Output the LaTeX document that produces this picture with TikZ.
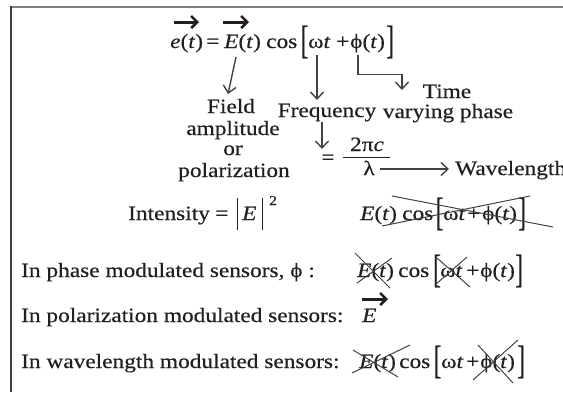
\documentclass[tikz,border=0pt]{standalone}
\usepackage{fontspec}
\setmainfont[FakeStretch=1.15,FakeBold=0.4]{Liberation Serif}
\usetikzlibrary{arrows.meta}
\definecolor{ink}{HTML}{231F20}
\newcommand\brL{\raisebox{-5pt}{\scalebox{1}[1.95]{[}}}
\newcommand\brR{\raisebox{-5pt}{\scalebox{1}[1.95]{]}}}
\newcommand\vbar{\rule[-10pt]{0.9pt}{32pt}}
\begin{document}
\begin{tikzpicture}[x=1pt,y=-1pt,
  font=\fontsize{20.3}{24}\selectfont, text=ink,
  t/.style={inner sep=0pt, anchor=base west},
  tc/.style={inner sep=0pt, anchor=base},
  arr/.style={draw=ink!85, line width=1.4pt, -{Straight Barb[length=7pt,width=13pt,line width=1.4pt]}},
  vecarrow/.style={draw=ink, line width=3pt, -{Straight Barb[length=6pt,width=12pt,line width=2.6pt]}},
  cross/.style={draw=ink!85, line width=1pt}]
\useasboundingbox (0,0) rectangle (563,392);
% frame
\draw[gray, line width=2pt] (11,6.5) -- (563,6.5);
\draw[black!75, line width=2pt] (11,5.5) -- (11,392);

% main equation
\node[t] (e)   at (170,48) {\textit{e}(\textit{t})};
\node[t] (eq)  at (206,48) {=};
\node[t] (E)   at (224,48) {\textit{E}(\textit{t})};
\node[t] (cos) at (266,48) {cos};
\node[t] (lb)  at (300.5,48) {\brL};
\node[t] (wt)  at (308,48) {ω\textit{t}};
\node[t] (pl)  at (336,48) {+};
\node[t] (ph)  at (350,48) {ϕ(\textit{t})};
\node[t] (rb)  at (386,48) {\brR};
\coordinate (ve1) at (174,22); \coordinate (ve2) at (199,22);
\coordinate (vE1) at (223,22); \coordinate (vE2) at (249,22);
\draw[vecarrow] (ve1) -- (ve2);
\draw[vecarrow] (vE1) -- (vE2);

% labels
\node[tc] (fld1) at (231,113) {Field};
\node[tc] (fld2) at (233,135) {amplitude};
\node[tc] (fld3) at (233,155) {or};
\node[tc] (fld4) at (234,177) {polarization};
\node[tc] (freq) at (327,117) {Frequency};
\node[tc] (tim1) at (447,98) {Time};
\node[tc] (tim2) at (448,118) {varying phase};

\coordinate (a1s) at (236,57); \coordinate (a1e) at (228,94);
\draw[arr] (a1s) -- (a1e);
\coordinate (a2s) at (317,55); \coordinate (a2e) at (317,100);
\draw[arr] (a2s) -- (a2e);
\coordinate (a3s) at (358,55); \coordinate (a3e) at (402,90);
\draw[arr] (a3s) |- (402,74.5) -- (a3e);

% wavelength
\coordinate (a4s) at (322,122); \coordinate (a4e) at (322,149);
\draw[arr] (a4s) -- (a4e);
\node[tc] (eq2) at (328,164) {=};
\node[tc] (num) at (367,151) {2π\textit{c}};
\coordinate (fr1) at (343,157.5); \coordinate (fr2) at (390,157.5);
\draw[ink, line width=0.9pt] (fr1) -- (fr2);
\node[tc] (lam) at (369,175) {λ};
\node[t] (wave) at (455,175) {Wavelength};
\coordinate (a5s) at (380,169);
\draw[arr] (a5s) -- ([xshift=-6pt]wave.west |- a5s);

% intensity
\node[t] (int) at (128,220) {Intensity};
\node[t] (eq3) at (215,220) {=};
\node[t] (b1)  at (236.5,220) {\vbar};
\node[t] (iE)  at (242,220) {\textit{E}};
\node[t] (b2)  at (261.5,220) {\vbar};
\node[t, font=\fontsize{13.5}{15}\selectfont] (sq) at (269,205) {2};

% crossed equation
\node[t] (cE)   at (360,220) {\textit{E}(\textit{t})};
\node[t] (ccos) at (402,220) {cos};
\node[t] (clb)  at (435.5,220) {\brL};
\node[t] (cwt)  at (443,220) {ω\textit{t}};
\node[t] (cpl)  at (467,220) {+};
\node[t] (cph)  at (482,220) {ϕ(\textit{t})};
\node[t] (crb)  at (518,220) {\brR};
\coordinate (x1a) at (392,196); \coordinate (x1b) at (553,227);
\coordinate (x2a) at (382,226); \coordinate (x2b) at (530,196);
\draw[cross] (x1a) -- (x1b);
\draw[cross] (x2a) -- (x2b);

% sensors: phase
\node[t] (ps) at (21,277) {In phase modulated sensors, ϕ :};
\node[t] (pE)   at (357,277) {\textit{E}(\textit{t})};
\node[t] (pcos) at (398,277) {cos};
\node[t] (plb)  at (433,277) {\brL};
\node[t] (pwt)  at (440,277) {ω\textit{t}};
\node[t] (ppl)  at (466,277) {+};
\node[t] (pph)  at (480,277) {ϕ(\textit{t})};
\node[t] (prb)  at (515,277) {\brR};
\coordinate (p1a) at (355,253); \coordinate (p1b) at (390,288);
\coordinate (p2a) at (357,283); \coordinate (p2b) at (392,258);
\coordinate (p3a) at (437,258); \coordinate (p3b) at (470,287);
\coordinate (p4a) at (435,285); \coordinate (p4b) at (467,257);
\draw[cross] (p1a) -- (p1b);
\draw[cross] (p2a) -- (p2b);
\draw[cross] (p3a) -- (p3b);
\draw[cross] (p4a) -- (p4b);

% sensors: polarization
\node[t] (pol) at (21,322) {In polarization modulated sensors:};
\node[t] (polE) at (362,322) {\textit{E}};
\coordinate (vp1) at (362,299); \coordinate (vp2) at (388,299);
\draw[vecarrow] (vp1) -- (vp2);

% sensors: wavelength
\node[t] (wl) at (21,368) {In wavelength modulated sensors:};
\node[t] (wE)   at (359,368) {\textit{E}(\textit{t})};
\node[t] (wcos) at (399,368) {cos};
\node[t] (wlb)  at (433.5,368) {\brL};
\node[t] (wwt)  at (441,368) {ω\textit{t}};
\node[t] (wpl)  at (466,368) {+};
\node[t] (wph)  at (480,368) {ϕ(\textit{t})};
\node[t] (wrb)  at (517,368) {\brR};
\coordinate (w1a) at (352,373); \coordinate (w1b) at (410,345);
\coordinate (w2a) at (353,350); \coordinate (w2b) at (398,377);
\coordinate (w3a) at (478,345); \coordinate (w3b) at (513,383);
\coordinate (w4a) at (518,340); \coordinate (w4b) at (473,380);
\draw[cross] (w1a) -- (w1b);
\draw[cross] (w2a) -- (w2b);
\draw[cross] (w3a) -- (w3b);
\draw[cross] (w4a) -- (w4b);
\end{tikzpicture}
\end{document}
